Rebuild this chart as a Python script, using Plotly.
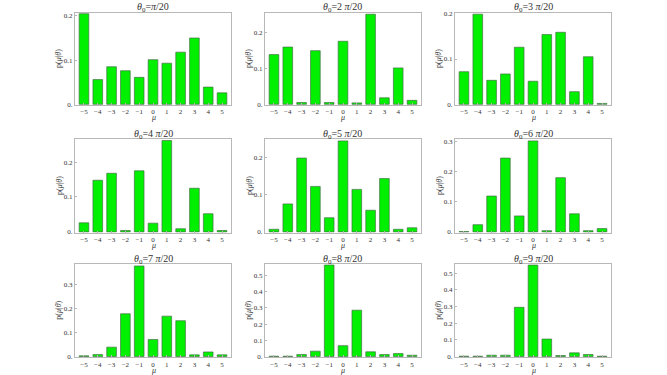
import plotly.graph_objects as go

mu = [-5, -4, -3, -2, -1, 0, 1, 2, 3, 4, 5]
mu_labels = ["−5", "−4", "−3", "−2", "−1", "0", "1", "2", "3", "4", "5"]

titles = ["π/20", "2 π/20", "3 π/20", "4 π/20", "5 π/20", "6 π/20", "7 π/20", "8 π/20", "9 π/20"]

p1 = [0.205, 0.056, 0.085, 0.076, 0.061, 0.101, 0.093, 0.118, 0.150, 0.039, 0.026]
p2 = [0.138, 0.159, 0.005, 0.149, 0.005, 0.175, 0.004, 0.250, 0.018, 0.101, 0.011]
p3 = [0.072, 0.199, 0.053, 0.067, 0.126, 0.051, 0.154, 0.159, 0.028, 0.105, 0.002]
p4 = [0.026, 0.148, 0.168, 0.004, 0.175, 0.025, 0.262, 0.009, 0.125, 0.052, 0.004]
p5 = [0.007, 0.075, 0.198, 0.122, 0.038, 0.244, 0.114, 0.058, 0.143, 0.007, 0.011]
p6 = [0.001, 0.024, 0.119, 0.245, 0.053, 0.302, 0.004, 0.180, 0.060, 0.004, 0.011]
p7 = [0.003, 0.008, 0.039, 0.178, 0.377, 0.071, 0.168, 0.149, 0.007, 0.019, 0.007]
p8 = [0.002, 0.002, 0.012, 0.033, 0.565, 0.067, 0.286, 0.029, 0.012, 0.018, 0.008]
p9 = [0.002, 0.002, 0.008, 0.008, 0.296, 0.550, 0.105, 0.006, 0.022, 0.012, 0.002]
series = [p1, p2, p3, p4, p5, p6, p7, p8, p9]

y_tops = [0.207, 0.254, 0.202, 0.265, 0.248, 0.307, 0.385, 0.571, 0.556]
y_ticks = [
    [0, 0.1, 0.2], [0, 0.1, 0.2], [0, 0.1, 0.2],
    [0, 0.1, 0.2], [0, 0.1, 0.2], [0, 0.1, 0.2, 0.3],
    [0, 0.1, 0.2, 0.3], [0, 0.1, 0.2, 0.3, 0.4, 0.5], [0, 0.1, 0.2, 0.3, 0.4, 0.5],
]

W, H = 667, 375
col_left = [75, 265, 455]
col_w = 156
row_top = [10, 139, 266]
row_bot = [104, 234, 361]

SERIF = "Liberation Serif, Times New Roman, serif"
FRAME = "#b8b8b8"
TXT = "#333333"

fig = go.Figure()
layout = dict(
    width=W, height=H, margin=dict(l=0, r=0, t=0, b=0),
    paper_bgcolor="white", plot_bgcolor="white",
    showlegend=False,
    font=dict(family=SERIF, color=TXT, size=7),
)
annotations = []

for i in range(9):
    r, c = divmod(i, 3)
    ax = "" if i == 0 else str(i + 1)
    xref = "x" + ax
    yref = "y" + ax
    x0 = col_left[c] / W
    x1 = (col_left[c] + col_w) / W
    y0 = 1 - row_bot[r] / H
    y1 = 1 - row_top[r] / H
    fig.add_trace(go.Bar(
        x=mu, y=series[i], xaxis=xref, yaxis=yref,
        marker=dict(color="#00f000", line=dict(color="rgba(70,110,70,0.85)", width=0.8)),
        width=0.7, hoverinfo="skip",
    ))
    top = y_tops[i]
    ticks = y_ticks[i]
    layout["xaxis" + ax] = dict(
        domain=[x0, x1], anchor="y" + ax, range=[-5.65, 5.65],
        tickvals=mu, ticktext=mu_labels, showgrid=False, zeroline=False,
        showline=True, linecolor=FRAME, linewidth=1, mirror=True,
        ticks="inside", ticklen=2, tickcolor=FRAME,
        tickfont=dict(family=SERIF, size=7, color=TXT),
    )
    layout["yaxis" + ax] = dict(
        domain=[y0, y1], anchor="x" + ax, range=[-0.008 * top, top],
        tickvals=ticks, ticktext=["0."] + [f"{t:g}" for t in ticks[1:]],
        showgrid=False, zeroline=False,
        showline=True, linecolor=FRAME, linewidth=1, mirror=True,
        ticks="inside", ticklen=2, tickcolor=FRAME,
        tickfont=dict(family=SERIF, size=7, color=TXT),
    )
    cx = (col_left[c] + col_w / 2) / W
    annotations.append(dict(
        text="<i>θ</i><sub>0</sub>=" + titles[i].replace("π", "<i>π</i>"),
        x=cx, y=1 - (row_top[r] - 5) / H, xref="paper", yref="paper",
        xanchor="center", yanchor="middle", showarrow=False,
        font=dict(family=SERIF, size=10, color=TXT),
    ))
    annotations.append(dict(
        text="p(<i>μ</i>|<i>θ</i>)", textangle=-90,
        x=(col_left[c] - 16) / W, y=1 - ((row_top[r] + row_bot[r]) / 2) / H,
        xref="paper", yref="paper", xanchor="center", yanchor="middle",
        showarrow=False, font=dict(family=SERIF, size=8, color=TXT),
    ))
    annotations.append(dict(
        text="<i>μ</i>",
        x=(col_left[c] + col_w / 2) / W, y=1 - (row_bot[r] + 13) / H,
        xref="paper", yref="paper", xanchor="center", yanchor="middle",
        showarrow=False, font=dict(family=SERIF, size=8, color=TXT),
    ))

layout["annotations"] = annotations
fig.update_layout(**layout)
fig.write_html(
    "out.html",
    config={"displayModeBar": False},
    post_script="document.body.style.margin='0';document.body.style.padding='0';",
)
